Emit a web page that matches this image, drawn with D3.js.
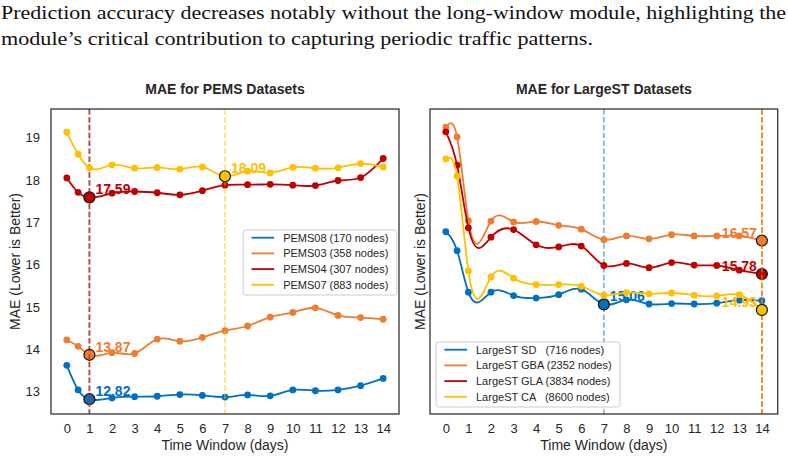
<!DOCTYPE html>
<html>
<head>
<meta charset="utf-8">
<script src="https://cdn.jsdelivr.net/npm/d3@7/dist/d3.min.js"></script>
<style>
  body { margin: 0; background: #fff; }
  svg text { font-family: "Liberation Sans", Arial, sans-serif; }
</style>
</head>
<body>
<div id="chart"></div>
<script>
// ---- data ----
var days = [0, 0.5, 1, 2, 3, 4, 5, 6, 7, 8, 9, 10, 11, 12, 13, 14];
var tickDays = [0, 1, 2, 3, 4, 5, 6, 7, 8, 9, 10, 11, 12, 13, 14];
var yTicks = [13, 14, 15, 16, 17, 18, 19];

var pemsNames = ["PEMS08 (170 nodes)", "PEMS03 (358 nodes)", "PEMS04 (307 nodes)", "PEMS07 (883 nodes)"];
var pems08 = [13.62, 13.04, 12.82, 12.85, 12.88, 12.89, 12.93, 12.91, 12.87, 12.92, 12.90, 13.04, 13.02, 13.04, 13.14, 13.31];
var pems03 = [14.22, 14.07, 13.87, 13.92, 13.90, 14.24, 14.19, 14.28, 14.44, 14.55, 14.76, 14.87, 14.98, 14.80, 14.75, 14.71];
var pems04 = [18.05, 17.71, 17.59, 17.69, 17.73, 17.70, 17.65, 17.75, 17.88, 17.89, 17.90, 17.88, 17.87, 17.99, 18.06, 18.51];
var pems07 = [19.13, 18.61, 18.29, 18.36, 18.28, 18.30, 18.26, 18.31, 18.09, 18.21, 18.17, 18.30, 18.28, 18.29, 18.39, 18.31];

var largeNames = ["LargeST SD   (716 nodes)", "LargeST GBA (2352 nodes)", "LargeST GLA (3834 nodes)", "LargeST CA   (8600 nodes)"];
var largeSD  = [16.78, 16.33, 15.35, 15.35, 15.27, 15.21, 15.29, 15.42, 15.06, 15.17, 15.07, 15.08, 15.07, 15.09, 15.16, 15.15];
var largeGBA = [19.25, 19.02, 17.04, 17.03, 17.01, 17.02, 16.93, 16.84, 16.59, 16.68, 16.61, 16.71, 16.68, 16.68, 16.68, 16.57];
var largeGLA = [19.14, 18.35, 16.87, 16.65, 16.83, 16.47, 16.42, 16.44, 15.98, 16.03, 15.93, 16.05, 15.99, 15.98, 15.87, 15.78];
var largeCA  = [18.50, 18.09, 15.85, 15.71, 15.68, 15.53, 15.53, 15.49, 15.28, 15.34, 15.31, 15.33, 15.28, 15.26, 15.29, 14.93];

var colors = ["#0070C0", "#ED7D31", "#C00000", "#FFC000"];

// ---- layout ----
var W = 788, H = 460;
var xDomain = [-0.7, 14.7];
var yDomain = [12.47, 19.68];
var textColor = "#262626";

// natural cubic spline in x (like scipy's spline smoothing), used as a d3 curve
function curveSplineX(context) {
    var pts;
    return {
        areaStart: function() {},
        areaEnd: function() {},
        lineStart: function() { pts = []; },
        point: function(x, y) { pts.push([+x, +y]); },
        lineEnd: function() {
            var n = pts.length;
            if (n < 3) {
                pts.forEach(function(p, i) { i ? context.lineTo(p[0], p[1]) : context.moveTo(p[0], p[1]); });
                return;
            }
            var h = [], M = new Array(n).fill(0), a = [], b = [], c = [], r = [];
            for (var i = 0; i < n - 1; i++) h[i] = pts[i + 1][0] - pts[i][0];
            for (i = 1; i < n - 1; i++) {
                a[i] = h[i - 1];
                b[i] = 2 * (h[i - 1] + h[i]);
                c[i] = h[i];
                r[i] = 6 * ((pts[i + 1][1] - pts[i][1]) / h[i] - (pts[i][1] - pts[i - 1][1]) / h[i - 1]);
            }
            // thomas algorithm
            for (i = 2; i < n - 1; i++) {
                var f = a[i] / b[i - 1];
                b[i] -= f * c[i - 1];
                r[i] -= f * r[i - 1];
            }
            for (i = n - 2; i >= 1; i--) {
                M[i] = (r[i] - (i < n - 2 ? c[i] * M[i + 1] : 0)) / b[i];
            }
            var m = [];
            for (i = 0; i < n - 1; i++) {
                m[i] = (pts[i + 1][1] - pts[i][1]) / h[i] - h[i] * (2 * M[i] + M[i + 1]) / 6;
            }
            var k = n - 2;
            m[n - 1] = (pts[n - 1][1] - pts[k][1]) / h[k] + h[k] * (M[k] + 2 * M[n - 1]) / 6;

            context.moveTo(pts[0][0], pts[0][1]);
            for (i = 0; i < n - 1; i++) {
                var d = h[i] / 3;
                context.bezierCurveTo(
                    pts[i][0] + d, pts[i][1] + m[i] * d,
                    pts[i + 1][0] - d, pts[i + 1][1] - m[i + 1] * d,
                    pts[i + 1][0], pts[i + 1][1]);
            }
        }
    };
}

var svg = d3.select("#chart").append("svg")
    .attr("width", W)
    .attr("height", H);

// caption text above the figure
var caption = [
    {text: "Prediction accuracy decreases notably without the long-window module, highlighting the", y: 19, len: 785},
    {text: "module\u2019s critical contribution to capturing periodic traffic patterns.", y: 45, len: 592}
];
svg.selectAll(".caption")
    .data(caption)
    .enter().append("text")
    .attr("class", "caption")
    .attr("x", 1)
    .attr("y", function(d) { return d.y; })
    .attr("textLength", function(d) { return d.len; })
    .attr("lengthAdjust", "spacingAndGlyphs")
    .style("font-family", "'Liberation Serif', 'DejaVu Serif', serif")
    .style("font-size", "19px")
    .attr("fill", "#111")
    .text(function(d) { return d.text; });

function drawPanel(cfg) {
    var w = cfg.right - cfg.left,
        h = cfg.bottom - cfg.top;

    var g = svg.append("g")
        .attr("transform", "translate(" + cfg.left + "," + cfg.top + ")");

    var x = d3.scaleLinear().domain(xDomain).range([0, w]);
    var y = d3.scaleLinear().domain(yDomain).range([h, 0]);

    g.append("clipPath").attr("id", cfg.id + "-clip")
        .append("rect").attr("width", w).attr("height", h);

    // title
    g.append("text")
        .attr("x", w / 2)
        .attr("y", -15)
        .attr("text-anchor", "middle")
        .attr("font-size", 14)
        .attr("font-weight", "bold")
        .attr("fill", textColor)
        .text(cfg.title);

    // x axis (no tick marks)
    var xAxis = d3.axisBottom(x).tickValues(tickDays).tickSize(0).tickPadding(10);
    var gx = g.append("g")
        .attr("transform", "translate(0," + h + ")")
        .call(xAxis);
    gx.select(".domain").remove();
    gx.selectAll("text").attr("font-size", 13).attr("fill", textColor).attr("font-family", null);

    g.append("text")
        .attr("x", w / 2)
        .attr("y", h + 36)
        .attr("text-anchor", "middle")
        .attr("font-size", 14)
        .attr("fill", textColor)
        .text("Time Window (days)");

    if (cfg.showY) {
        var yAxis = d3.axisLeft(y).tickValues(yTicks).tickSize(0).tickPadding(11);
        var gy = g.append("g").call(yAxis);
        gy.select(".domain").remove();
        gy.selectAll("text").attr("font-size", 13).attr("fill", textColor).attr("font-family", null);
    }
    g.append("text")
        .attr("transform", "translate(" + cfg.yLabelX + "," + (h / 2) + ") rotate(-90)")
        .attr("text-anchor", "middle")
        .attr("dy", "0.35em")
        .attr("font-size", 14)
        .attr("fill", textColor)
        .text("MAE (Lower is Better)");

    var plot = g.append("g").attr("clip-path", "url(#" + cfg.id + "-clip)");

    var line = d3.line()
        .x(function(d, i) { return x(days[i]); })
        .y(function(d) { return y(d); })
        .curve(curveSplineX);

    cfg.series.forEach(function(values, s) {
        var col = colors[s];
        var sg = plot.append("g");

        sg.append("path")
            .datum(values)
            .attr("fill", "none")
            .attr("stroke", col)
            .attr("stroke-width", 1.8)
            .attr("d", line);

        sg.selectAll("circle")
            .data(values)
            .enter().append("circle")
            .attr("cx", function(d, i) { return x(days[i]); })
            .attr("cy", function(d) { return y(d); })
            .attr("r", 3.4)
            .attr("fill", col);

        var mi = d3.minIndex(values);
        var mx = x(days[mi]), my = y(values[mi]);

        // best window marker line
        sg.append("line")
            .attr("x1", mx).attr("x2", mx)
            .attr("y1", 0).attr("y2", h)
            .attr("stroke", col)
            .attr("stroke-opacity", 0.55)
            .attr("stroke-width", 1.6)
            .attr("stroke-dasharray", "5.5,2.4");

        sg.append("circle")
            .attr("cx", mx)
            .attr("cy", my)
            .attr("r", 5.5)
            .attr("fill", col)
            .attr("stroke", "#111")
            .attr("stroke-width", 1.2);

        var atEnd = mi === values.length - 1;
        sg.append("text")
            .attr("x", atEnd ? mx - 5 : mx + 6)
            .attr("y", my - 3)
            .attr("text-anchor", atEnd ? "end" : "start")
            .attr("font-size", 14)
            .attr("font-weight", "bold")
            .attr("fill", col)
            .text(values[mi].toFixed(2));
    });

    // frame
    g.append("rect")
        .attr("width", w)
        .attr("height", h)
        .attr("fill", "none")
        .attr("stroke", "#333")
        .attr("stroke-width", 1.3);

    // legend
    var rowH = 15.7, pad = 8.4, lineLen = 22.6, gap = 9;
    var lg = g.append("g");
    var box = lg.append("rect")
        .attr("rx", 2.5).attr("ry", 2.5)
        .attr("fill", "#fff")
        .attr("fill-opacity", 0.85)
        .attr("stroke", "#ccc")
        .attr("stroke-width", 1);
    var rows = lg.selectAll(".row")
        .data(cfg.names)
        .enter().append("g")
        .attr("class", "row")
        .attr("transform", function(d, i) { return "translate(0," + (7.7 + i * rowH) + ")"; });
    rows.append("line")
        .attr("x1", pad).attr("x2", pad + lineLen)
        .attr("stroke", function(d, i) { return colors[i]; })
        .attr("stroke-width", 1.8);
    rows.append("text")
        .attr("x", pad + lineLen + gap)
        .attr("dy", "0.35em")
        .attr("font-size", 11)
        .attr("fill", textColor)
        .style("white-space", "pre")
        .text(function(d) { return d; });
    var maxW = d3.max(rows.selectAll("text").nodes(), function(n) { return n.getComputedTextLength(); });
    var bw = pad + lineLen + gap + maxW + pad,
        bh = 65;
    box.attr("width", bw).attr("height", bh);
    var lx = cfg.legendSide === "right" ? w - bw - 2.3 : 6;
    lg.attr("transform", "translate(" + lx + "," + (cfg.legendTop - cfg.top) + ")");
}

drawPanel({
    id: "pems", title: "MAE for PEMS Datasets",
    left: 51, right: 399, top: 109, bottom: 414,
    series: [pems08, pems03, pems04, pems07],
    names: pemsNames, showY: true, yLabelX: -36,
    legendSide: "right", legendTop: 230
});

drawPanel({
    id: "large", title: "MAE for LargeST Datasets",
    left: 430, right: 777.7, top: 109, bottom: 414,
    series: [largeSD, largeGBA, largeGLA, largeCA],
    names: largeNames, showY: false, yLabelX: -10,
    legendSide: "left", legendTop: 342
});
</script>
</body>
</html>
